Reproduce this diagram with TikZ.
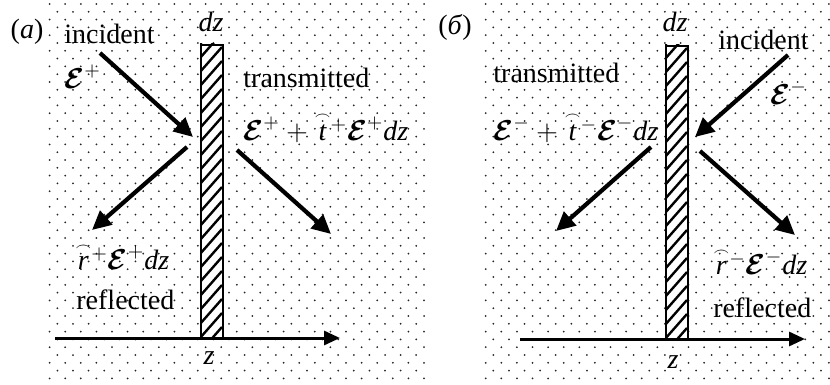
\documentclass[tikz,border=0pt]{standalone}
\usepackage{amsmath}
\usepackage{fontspec}
\setmainfont{Liberation Serif}
\usetikzlibrary{arrows.meta}
\newcommand\arcacc[1]{{\smash[t]{\overset{\scriptscriptstyle\frown}{#1}}\vphantom{#1}}}
\newcommand\EE{\boldsymbol{\mathcal{E}}}
\begin{document}
\begin{tikzpicture}[x=0.5pt,y=-0.5pt,
  lbl/.style={inner sep=0pt,font=\fontsize{14}{16}\selectfont},
  wave/.style={line width=2.1pt,-{Triangle[length=9.5pt,width=9pt]}},
  axisarrow/.style={line width=1.5pt,-{Triangle[length=8pt,width=7pt]}},
  slab/.style={draw,line width=1.1pt},
  hatch/.style={line width=1.2pt},
  dotc/.style={fill=black!85}]
\useasboundingbox (0,0) rectangle (830,385);
% dotted backgrounds
\foreach \r in {0,2,...,48}{
  \foreach \k in {0,...,24}{\fill[dotc] ({49.6+15.6*\k},{4+7.8*\r}) circle[radius=1];}
  \foreach \k in {0,...,22}{\fill[dotc] ({485.7+15.6*\k},{4+7.8*\r}) circle[radius=1];}
}
\foreach \r in {1,3,...,47}{
  \foreach \k in {0,...,23}{\fill[dotc] ({57.4+15.6*\k},{4+7.8*\r}) circle[radius=1];}
  \foreach \k in {0,...,21}{\fill[dotc] ({493.3+15.6*\k},{4+7.8*\r}) circle[radius=1];}
}
% ---------- panel (a) ----------
\fill[white] (200,44) rectangle (222,337);
\begin{scope}
  \clip (200,44) rectangle (222,337);
  \foreach \i in {0,...,23}{\draw[hatch] (200,{44+14*\i}) -- ++(22,-25);}
\end{scope}
\node[slab,minimum width=11pt,minimum height=146.5pt,inner sep=0pt,anchor=north west] (lslab) at (200,44) {};
\coordinate (lax0) at (55,338);
\coordinate (lax1) at (340,338);
\draw[axisarrow] (lax0) -- (lax1);
\coordinate (li0) at (100,53);
\coordinate (li1) at (193,137);
\coordinate (lr0) at (187,147);
\coordinate (lr1) at (92,230);
\coordinate (lt0) at (237,150);
\coordinate (lt1) at (331,234);
\draw[wave] (li0) -- (li1);
\draw[wave] (lr0) -- (lr1);
\draw[wave] (lt0) -- (lt1);
\node[lbl] (la) at (27,32) {(\textit{a})};
\node[lbl,anchor=west] (linc) at (64,34) {incident};
\node[lbl,anchor=west] (lE) at (64,77) {$\EE^{+}$};
\node[lbl] (ldz) at (211,22) {\textit{dz}};
\node[lbl,anchor=west] (ltr) at (243,78) {transmitted};
\node[lbl,anchor=west] (ltf) at (243,130) {$\EE^{+}+\arcacc{\textit{t}}^{+}\EE^{+}\textit{dz}$};
\node[lbl,anchor=west] (lrf) at (75,258) {$\arcacc{\textit{r}}^{+}\EE^{+}\textit{dz}$};
\node[lbl,anchor=west] (lref) at (76,300) {reflected};
\node[lbl] (lz) at (209,358) {\textit{z}};
% ---------- panel (b) ----------
\fill[white] (665,45) rectangle (687,339);
\begin{scope}
  \clip (665,45) rectangle (687,339);
  \foreach \i in {0,...,23}{\draw[hatch] (665,{45+14*\i}) -- ++(22,-25);}
\end{scope}
\node[slab,minimum width=11pt,minimum height=147pt,inner sep=0pt,anchor=north west] (rslab) at (665,45) {};
\coordinate (rax0) at (520,339);
\coordinate (rax1) at (805,339);
\draw[axisarrow] (rax0) -- (rax1);
\coordinate (ri0) at (788,55);
\coordinate (ri1) at (695,137);
\coordinate (rt0) at (651,147);
\coordinate (rt1) at (556,231);
\coordinate (rr0) at (700,151);
\coordinate (rr1) at (795,235);
\draw[wave] (ri0) -- (ri1);
\draw[wave] (rt0) -- (rt1);
\draw[wave] (rr0) -- (rr1);
\node[lbl] (rb) at (455,27) {(\textit{б})};
\node[lbl] (rdz) at (675,22) {\textit{dz}};
\node[lbl,anchor=west] (rinc) at (718,40) {incident};
\node[lbl,anchor=west] (rE) at (770,93) {$\EE^{-}$};
\node[lbl,anchor=west] (rtr) at (493,73) {transmitted};
\node[lbl,anchor=west] (rtf) at (493,130) {$\EE^{-}+\arcacc{\textit{t}}^{-}\EE^{-}\textit{dz}$};
\node[lbl,anchor=west] (rrf) at (713,263) {$\arcacc{\textit{r}}^{-}\EE^{-}\textit{dz}$};
\node[lbl,anchor=west] (rref) at (713,308) {reflected};
\node[lbl] (rz) at (673,362) {\textit{z}};
\end{tikzpicture}
\end{document}
